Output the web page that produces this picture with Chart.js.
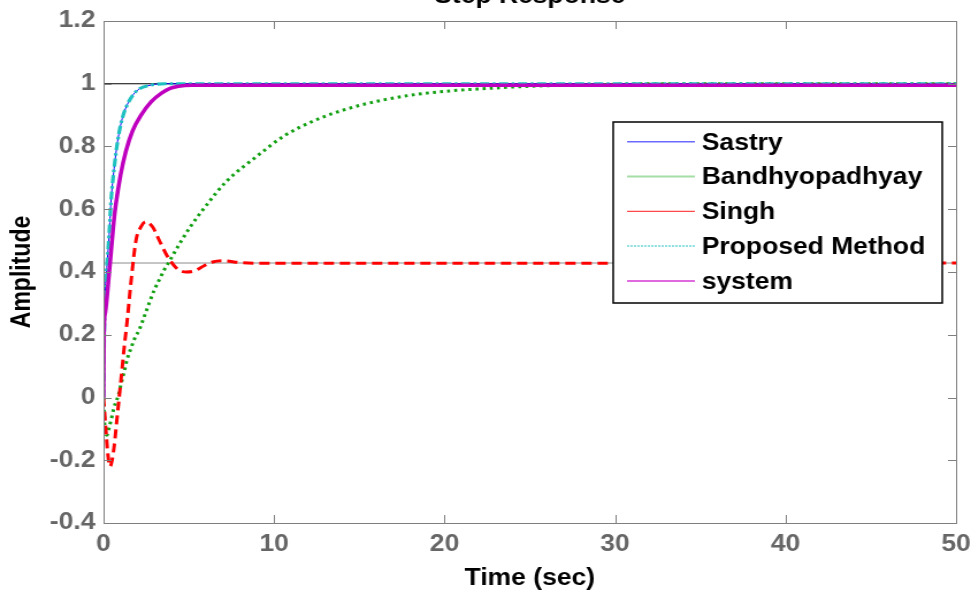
<!DOCTYPE html>
<html>
<head>
<meta charset="utf-8">
<script src="https://cdn.jsdelivr.net/npm/chart.js@4.4.0/dist/chart.umd.min.js"></script>
<style>
html, body { margin: 0; padding: 0; background: #fff; overflow: hidden; }
</style>
</head>
<body>
<!-- the reference is stretched sideways, so the canvas is drawn narrow and widened by css -->
<canvas id="stepChart" width="844" height="592" style="width:971px;height:592px;display:block"></canvas>
<script>
const chartTitle = 'Step Response';
const xTitle = 'Time (sec)';
const yTitle = 'Amplitude';
const seriesNames = ['Sastry', 'Bandhyopadhyay', 'Singh', 'Proposed Method', 'system'];

// Sastry and proposed method lie on top of each other
const sastryTime = [0, 0.03, 0.08, 0.2, 0.33, 0.43, 0.62, 0.82, 1.1, 1.5, 2.0, 2.8, 3.6, 5, 50];
const sastryAmp = [0, 0.16, 0.31, 0.42, 0.52, 0.62, 0.73, 0.815, 0.89, 0.945, 0.98, 0.996, 1, 1, 1];
const proposedTime = [0, 0.03, 0.08, 0.2, 0.33, 0.43, 0.62, 0.82, 1.1, 1.5, 2.0, 2.8, 3.6, 5, 50];
const proposedAmp = [0, 0.16, 0.31, 0.42, 0.52, 0.62, 0.73, 0.815, 0.89, 0.945, 0.98, 0.996, 1, 1, 1];

const bandTime = [0, 0.08, 0.2, 0.33, 0.45, 0.6, 0.72, 0.86, 1.02, 1.21, 1.37, 1.6, 1.84, 2.09, 2.38, 2.67,
    2.97, 3.26, 3.55, 3.85, 4.24, 5.04, 6.02, 7.19, 8.95, 10.6, 12.47, 14.42, 16.37, 18.33, 20.28, 22.23,
    24.18, 26.14, 29, 32, 50];
const bandAmp = [0, -0.1, -0.12, -0.095, -0.07, -0.035, -0.014, 0.004, 0.042, 0.082, 0.119, 0.156, 0.19, 0.215,
    0.257, 0.3, 0.342, 0.374, 0.406, 0.433, 0.47, 0.54, 0.612, 0.688, 0.767, 0.834, 0.885, 0.922, 0.948, 0.966,
    0.977, 0.984, 0.99, 0.994, 0.997, 1, 1];

const singhTime = [0, 0.14, 0.25, 0.38, 0.5, 0.62, 0.82, 1.02, 1.21, 1.37, 1.6, 1.9, 2.19, 2.48, 2.87, 3.26,
    3.65, 4.04, 4.4, 4.85, 5.3, 5.9, 6.4, 7.0, 8.0, 9.5, 50];
const singhAmp = [0, -0.105, -0.18, -0.22, -0.2, -0.157, -0.05, 0.055, 0.16, 0.236, 0.364, 0.5, 0.544, 0.56,
    0.544, 0.502, 0.459, 0.427, 0.407, 0.4, 0.403, 0.42, 0.432, 0.436, 0.43, 0.428, 0.4286];

const systemTime = [0, 0.02, 0.1, 0.3, 0.45, 0.6, 0.72, 1.0, 1.3, 1.7, 2.2, 2.8, 3.4, 3.9, 4.4, 5.2, 50];
const systemAmp = [0, 0.2, 0.27, 0.38, 0.47, 0.56, 0.615, 0.71, 0.783, 0.85, 0.9, 0.943, 0.97, 0.985, 0.992, 0.995, 0.995];

// steady state lines drawn by the step plot
const levelTime = [0, 50];
const unitLevel = [1, 1];
const singhLevel = [0.4286, 0.4286];

const xRange = [0, 50];
const xStep = 10;
const yRange = [-0.4, 1.2];
const yStep = 0.2;

const boldFont = '"Liberation Sans", Arial, sans-serif';

function toPoints(times, amps) {
    return times.map((t, i) => ({ x: t, y: amps[i] }));
}

function curve(label, times, amps, color, width, dash, order) {
    return {
        label: label,
        data: toPoints(times, amps),
        borderColor: color,
        borderWidth: width,
        borderDash: dash,
        pointRadius: 0,
        fill: false,
        cubicInterpolationMode: 'monotone',
        order: order
    };
}

// legend swatches are paler and thinner than the curves, like the original
const legendSwatches = [
    { color: '#6a6aff', width: 1.5, dash: [] },
    { color: '#a6dea6', width: 2, dash: [] },
    { color: '#ff4a4a', width: 1.2, dash: [] },
    { color: '#6fd6d6', width: 1.5, dash: [2, 1] },
    { color: '#df6adf', width: 2, dash: [] }
];

const matlabFrame = {
    id: 'matlabFrame',
    afterDatasetsDraw(chart) {
        const { ctx, chartArea: a } = chart;
        const xs = chart.scales.x;
        const ys = chart.scales.y;
        ctx.save();

        // axes box with ticks pointing inwards on all four sides
        ctx.strokeStyle = '#7f7f7f';
        ctx.lineWidth = 1;
        ctx.strokeRect(Math.round(a.left) + 0.5, Math.round(a.top) + 0.5,
            Math.round(a.right - a.left), Math.round(a.bottom - a.top));
        ctx.beginPath();
        xs.ticks.forEach(t => {
            const px = Math.round(xs.getPixelForValue(t.value)) + 0.5;
            ctx.moveTo(px, a.bottom); ctx.lineTo(px, a.bottom - 8);
            ctx.moveTo(px, a.top); ctx.lineTo(px, a.top + 8);
        });
        ys.ticks.forEach(t => {
            const py = Math.round(ys.getPixelForValue(t.value)) + 0.5;
            ctx.moveTo(a.left, py); ctx.lineTo(a.left + 7, py);
            ctx.moveTo(a.right, py); ctx.lineTo(a.right - 7, py);
        });
        ctx.stroke();

        // title, cut off by the top edge
        ctx.fillStyle = '#000';
        ctx.font = 'bold 23px ' + boldFont;
        ctx.textAlign = 'center';
        ctx.textBaseline = 'alphabetic';
        ctx.fillText(chartTitle, (a.left + a.right) / 2, 3);

        // legend box
        const bx = 533, by = 122, bw = 286, bh = 181;
        ctx.fillStyle = '#fff';
        ctx.fillRect(bx, by, bw, bh);
        ctx.strokeStyle = '#000';
        ctx.lineWidth = 1.5;
        ctx.strokeRect(bx, by, bw, bh);
        ctx.textAlign = 'left';
        ctx.textBaseline = 'middle';
        seriesNames.forEach((name, i) => {
            const ry = 141.7 + i * 34.8;
            const sw = legendSwatches[i];
            ctx.beginPath();
            ctx.strokeStyle = sw.color;
            ctx.lineWidth = sw.width;
            ctx.setLineDash(sw.dash);
            ctx.moveTo(545, ry);
            ctx.lineTo(604, ry);
            ctx.stroke();
            ctx.setLineDash([]);
            ctx.fillStyle = '#000';
            ctx.fillText(name, 610, ry + 1.5);
        });
        ctx.restore();
    }
};

const tickFont = { family: boldFont, size: 23, weight: 'bold' };

new Chart(document.getElementById('stepChart'), {
    type: 'line',
    data: {
        datasets: [
            curve(seriesNames[0], sastryTime, sastryAmp, '#0000ff', 1, [], 4),
            curve(seriesNames[1], bandTime, bandAmp, '#12a012', 3, [2.6, 3.6], 3),
            curve(seriesNames[2], singhTime, singhAmp, '#ff0000', 3, [9, 5], 2),
            curve(seriesNames[3], proposedTime, proposedAmp, '#1fc0c0', 3.2, [8, 3, 2.5, 3], 1),
            curve(seriesNames[4], systemTime, systemAmp, '#bf00bf', 3.5, [], 0),
            curve('unit level', levelTime, unitLevel, '#000000', 1, [], 6),
            curve('Singh level', levelTime, singhLevel, '#8c8c8c', 1, [], 5)
        ]
    },
    options: {
        responsive: false,
        devicePixelRatio: 1,
        animation: false,
        layout: { padding: { top: 21, right: 13, bottom: 0, left: 0 } },
        plugins: {
            legend: { display: false },
            tooltip: { enabled: false },
            title: { display: false }
        },
        scales: {
            x: {
                type: 'linear',
                min: xRange[0],
                max: xRange[1],
                grid: { display: false, drawTicks: false },
                border: { display: false },
                ticks: { stepSize: xStep, color: '#666', font: tickFont, padding: 8, maxRotation: 0 },
                title: { display: true, text: xTitle, color: '#000', font: tickFont, padding: 0 },
                afterFit(scale) {
                    scale.height = 69;
                    scale.paddingRight = 0;
                }
            },
            y: {
                min: yRange[0],
                max: yRange[1],
                grid: { display: false, drawTicks: false },
                border: { display: false },
                ticks: {
                    stepSize: yStep,
                    color: '#666',
                    font: tickFont,
                    padding: 7,
                    callback: v => String(Number(v.toFixed(1)))
                },
                title: { display: true, text: yTitle, color: '#000', font: tickFont, padding: { top: 6, bottom: 0 } },
                afterFit(scale) { scale.width = 90; }
            }
        }
    },
    plugins: [matlabFrame]
});
</script>
</body>
</html>
